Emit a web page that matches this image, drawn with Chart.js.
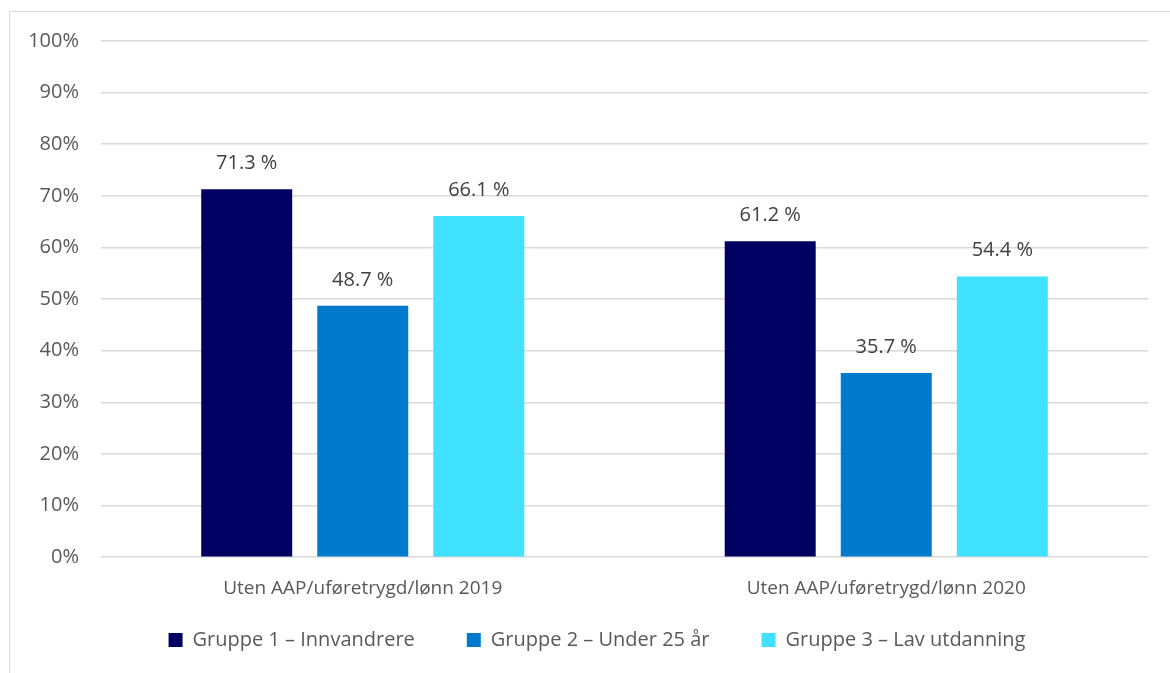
<!DOCTYPE html>
<html>
<head>
<meta charset="utf-8">
<script src="https://cdn.jsdelivr.net/npm/chart.js@4/dist/chart.umd.min.js"></script>
<style>
  html, body { margin: 0; padding: 0; background: #fff; overflow: hidden; }
  #wrap { position: relative; width: 1170px; height: 673px; }
  #frame { position: absolute; left: 9px; top: 11px; width: 1200px; height: 700px; border: 1px solid #d9d9d9; }
  #chart { position: absolute; left: 0; top: 0; }
</style>
</head>
<body>
<div id="wrap">
  <div id="frame"></div>
  <canvas id="chart" width="1170" height="673"></canvas>
</div>
<script>
// Andel uten AAP/uføretrygd/lønn per gruppe
const categories = ['Uten AAP/uføretrygd/lønn 2019', 'Uten AAP/uføretrygd/lønn 2020'];
const seriesNames = ['Gruppe 1 – Innvandrere', 'Gruppe 2 – Under 25 år', 'Gruppe 3 – Lav utdanning'];
const gruppe1 = [71.3, 61.2];
const gruppe2 = [48.7, 35.7];
const gruppe3 = [66.1, 54.4];
const yTicks = [0, 10, 20, 30, 40, 50, 60, 70, 80, 90, 100];

const colors = ['#000062', '#007ACC', '#40E2FF'];
const FONT = '"Open Sans", sans-serif';

// value labels above each bar
const barLabels = {
  id: 'barLabels',
  afterDatasetsDraw(chart) {
    const ctx = chart.ctx;
    ctx.save();
    ctx.font = '20px ' + FONT;
    ctx.fillStyle = '#404040';
    ctx.textAlign = 'center';
    ctx.textBaseline = 'middle';
    chart.data.datasets.forEach((ds, i) => {
      chart.getDatasetMeta(i).data.forEach((bar, j) => {
        ctx.fillText(ds.data[j].toFixed(1) + ' %', bar.x, bar.y - 26);
      });
    });
    ctx.restore();
  }
};

// the legend sits a bit right of centre and close under the axis labels
const legendPlace = {
  id: 'legendPlace',
  afterLayout(chart) {
    const lg = chart.legend;
    const dx = 18;
    const dy = 578 - lg.top;
    lg.left += dx; lg.right += dx;
    lg.top += dy; lg.bottom += dy;
  }
};

new Chart(document.getElementById('chart'), {
  type: 'bar',
  data: {
    labels: categories,
    datasets: [gruppe1, gruppe2, gruppe3].map((d, i) => ({
      label: seriesNames[i],
      data: d,
      backgroundColor: colors[i],
      categoryPercentage: 0.665,
      barPercentage: 0.784
    }))
  },
  options: {
    responsive: false,
    animation: false,
    layout: { padding: { top: 41, left: 10, right: 22, bottom: -21 } },
    scales: {
      x: {
        grid: { display: false },
        border: { display: false },
        ticks: { color: '#595959', font: { family: FONT, size: 19 }, padding: 12 }
      },
      y: {
        min: 0,
        max: 100,
        afterBuildTicks(scale) { scale.ticks = yTicks.map(v => ({ value: v })); },
        afterFit(scale) { scale.width = 91; },
        grid: { color: '#d9d9d9', lineWidth: 1.5, drawTicks: false },
        border: { display: false },
        ticks: {
          color: '#595959',
          font: { family: FONT, size: 20 },
          padding: 22,
          callback: v => v + '%'
        }
      }
    },
    plugins: {
      legend: {
        position: 'bottom',
        labels: {
          color: '#595959',
          font: { family: FONT, size: 20 },
          boxWidth: 14,
          boxHeight: 14,
          padding: 52
        }
      },
      tooltip: { enabled: false }
    }
  },
  plugins: [barLabels, legendPlace]
});
</script>
</body>
</html>
